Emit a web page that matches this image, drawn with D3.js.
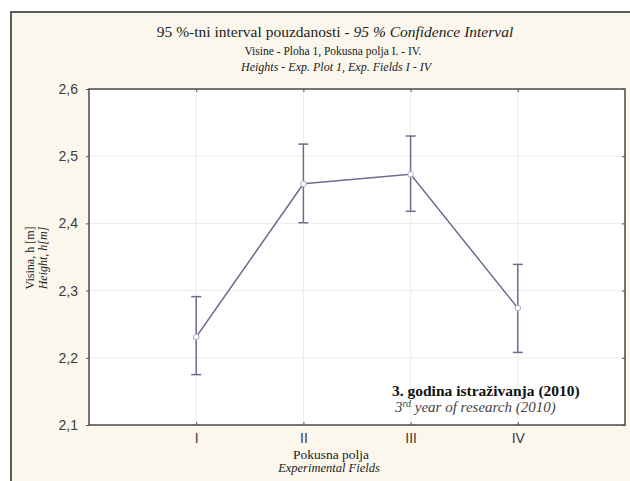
<!DOCTYPE html>
<html>
<head>
<meta charset="utf-8">
<script src="https://cdn.jsdelivr.net/npm/d3@7"></script>
<style>
  body { margin: 0; background: #ffffff; }
  svg { display: block; }
</style>
</head>
<body>
<div id="chart"></div>
<script>
// data
const fields = ["I", "II", "III", "IV"];
const means = [2.231, 2.459, 2.473, 2.274];
const upper = [2.291, 2.518, 2.530, 2.339];
const lower = [2.175, 2.401, 2.418, 2.208];
const yTicks = [2.1, 2.2, 2.3, 2.4, 2.5, 2.6];

function drawCIChart(chart_id = "#chart") {
  const svgWidth = 630;
  const svgHeight = 481;
  const margin = { top: 89, right: 5, bottom: 56, left: 89 };
  const width = svgWidth - margin.left - margin.right;
  const height = svgHeight - margin.top - margin.bottom;
  const lineColor = "#6c6c94";
  const serif = "Liberation Serif, serif";

  const root = d3.select(chart_id)
    .append("svg")
    .attr("width", svgWidth)
    .attr("height", svgHeight);

  // outer panel
  root.append("rect")
    .attr("x", 11).attr("y", 12)
    .attr("width", svgWidth + 10).attr("height", svgHeight + 10)
    .attr("fill", "#fbf7ec")
    .attr("stroke", "#5a5a5a")
    .attr("stroke-width", 2);

  // titles
  const title = root.append("text")
    .attr("x", 335).attr("y", 37)
    .attr("text-anchor", "middle")
    .style("font-family", serif)
    .style("font-size", "15.5px")
    .attr("fill", "#222");
  title.append("tspan").text("95 %-tni interval pouzdanosti - ");
  title.append("tspan").style("font-style", "italic").text("95 % Confidence Interval");

  root.append("text")
    .attr("x", 333).attr("y", 55)
    .attr("text-anchor", "middle")
    .style("font-family", serif)
    .style("font-size", "11.5px")
    .attr("fill", "#222")
    .text("Visine - Ploha 1, Pokusna polja I. - IV.");

  root.append("text")
    .attr("x", 336).attr("y", 71)
    .attr("text-anchor", "middle")
    .style("font-family", serif)
    .style("font-size", "12px")
    .style("font-style", "italic")
    .attr("fill", "#222")
    .text("Heights - Exp. Plot 1, Exp. Fields  I - IV");

  const svg = root.append("g")
    .attr("transform", "translate(" + margin.left + "," + margin.top + ")");

  // scales
  const xScale = d3.scalePoint()
    .domain(fields)
    .range([0, width])
    .padding(1);

  const yScale = d3.scaleLinear()
    .domain([2.1, 2.6])
    .range([height, 0]);

  svg.append("rect")
    .attr("width", width).attr("height", height)
    .attr("fill", "#ffffff");

  // grid
  svg.append("g")
    .selectAll("line")
    .data(yTicks.slice(1, -1))
    .join("line")
    .attr("x1", 0).attr("x2", width)
    .attr("y1", d => yScale(d)).attr("y2", d => yScale(d))
    .attr("stroke", "#ececef");

  svg.append("g")
    .selectAll("line")
    .data(fields)
    .join("line")
    .attr("x1", d => xScale(d)).attr("x2", d => xScale(d))
    .attr("y1", 0).attr("y2", height)
    .attr("stroke", "#ececef");

  // axes
  const xAxis = svg.append("g")
    .attr("transform", "translate(0," + height + ")")
    .call(d3.axisBottom(xScale).tickSize(-3).tickPadding(8));
  const yAxis = svg.append("g")
    .call(d3.axisLeft(yScale).tickValues(yTicks).tickSize(3).tickPadding(8)
      .tickFormat(d => d3.format(".1f")(d).replace(".", ",")));
  svg.append("g")
    .call(d3.axisTop(xScale).tickSize(-3).tickFormat(""));
  svg.append("g")
    .attr("transform", "translate(" + width + ",0)")
    .call(d3.axisRight(yScale).tickValues(yTicks).tickSize(-3).tickFormat(""));

  svg.selectAll(".domain").remove();
  svg.selectAll(".tick line").attr("stroke", "#555");
  [xAxis, yAxis].forEach(a => a.selectAll("text")
    .style("font-family", "Liberation Sans, Arial, sans-serif")
    .style("font-size", "14px")
    .attr("fill", "#3c3c3c"));

  svg.append("rect")
    .attr("width", width).attr("height", height)
    .attr("fill", "none")
    .attr("stroke", "#4a4a4a")
    .attr("stroke-width", 1.5);

  const data = fields.map((f, i) => ({ f: f, m: means[i], lo: lower[i], hi: upper[i] }));

  // line
  const line = d3.line()
    .x(d => xScale(d.f))
    .y(d => yScale(d.m));

  svg.append("path")
    .datum(data)
    .attr("fill", "none")
    .attr("stroke", lineColor)
    .attr("stroke-width", 1.5)
    .attr("d", line);

  // error bars
  const eb = svg.append("g").selectAll("g").data(data).join("g")
    .attr("stroke", lineColor)
    .attr("stroke-width", 1.5);
  eb.append("line")
    .attr("x1", d => xScale(d.f)).attr("x2", d => xScale(d.f))
    .attr("y1", d => yScale(d.lo)).attr("y2", d => yScale(d.hi));
  eb.append("line")
    .attr("x1", d => xScale(d.f) - 5).attr("x2", d => xScale(d.f) + 5)
    .attr("y1", d => yScale(d.hi)).attr("y2", d => yScale(d.hi));
  eb.append("line")
    .attr("x1", d => xScale(d.f) - 5).attr("x2", d => xScale(d.f) + 5)
    .attr("y1", d => yScale(d.lo)).attr("y2", d => yScale(d.lo));

  svg.append("g").selectAll("circle").data(data).join("circle")
    .attr("cx", d => xScale(d.f))
    .attr("cy", d => yScale(d.m))
    .attr("r", 2.8)
    .attr("fill", "#ffffff")
    .attr("stroke", "#a8a8c4")
    .attr("stroke-width", 1);

  // annotation
  svg.append("text")
    .attr("x", 303).attr("y", 307)
    .style("font-family", serif)
    .style("font-size", "15.5px")
    .style("font-weight", "bold")
    .attr("fill", "#111")
    .text("3. godina istraživanja (2010)");

  const ann = svg.append("text")
    .attr("x", 306).attr("y", 323)
    .style("font-family", serif)
    .style("font-size", "15px")
    .style("font-style", "italic")
    .attr("fill", "#444");
  ann.append("tspan").text("3");
  ann.append("tspan").attr("dy", -5).style("font-size", "10px").text("rd");
  ann.append("tspan").attr("dy", 5).text(" year of research (2010)");

  // axis labels
  root.append("text")
    .attr("x", 331).attr("y", 459)
    .attr("text-anchor", "middle")
    .style("font-family", serif)
    .style("font-size", "13.5px")
    .attr("fill", "#222")
    .text("Pokusna polja");

  root.append("text")
    .attr("x", 329).attr("y", 472)
    .attr("text-anchor", "middle")
    .style("font-family", serif)
    .style("font-size", "12.5px")
    .style("font-style", "italic")
    .attr("fill", "#222")
    .text("Experimental Fields");

  root.append("text")
    .attr("transform", "translate(34,258) rotate(-90)")
    .attr("text-anchor", "middle")
    .style("font-family", serif)
    .style("font-size", "12px")
    .attr("fill", "#222")
    .text("Visina, h [m]");

  root.append("text")
    .attr("transform", "translate(47,258) rotate(-90)")
    .attr("text-anchor", "middle")
    .style("font-family", serif)
    .style("font-size", "12px")
    .style("font-style", "italic")
    .attr("fill", "#222")
    .text("Height, h[m]");
}

drawCIChart("#chart");
</script>
</body>
</html>
